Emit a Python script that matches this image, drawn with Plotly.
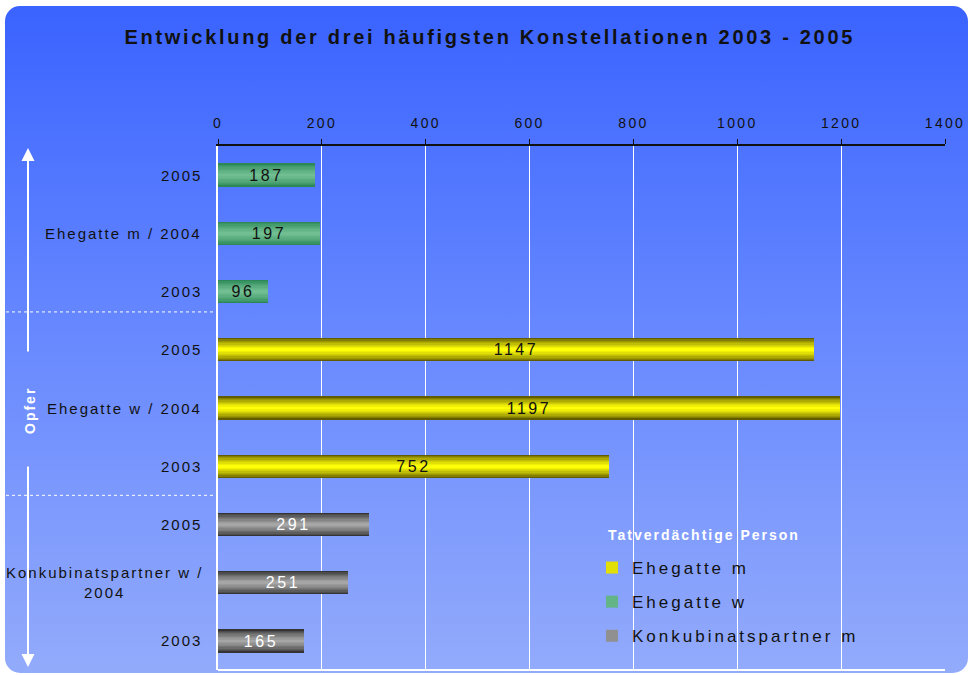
import base64
import plotly.graph_objects as go

# ---------------- data ----------------
row_labels = ["2005", "Ehegatte m / 2004", "2003",
              "2005", "Ehegatte w / 2004", "2003",
              "2005", "Konkubinatspartner w /<br>2004", "2003"]
series_names = ["Ehegatte m", "Ehegatte w", "Konkubinatspartner m"]
ehegatte_m = [1147, 1197, 752]        # Opfer: Ehegatte w
ehegatte_w = [187, 197, 96]           # Opfer: Ehegatte m
konkubinatspartner_m = [291, 251, 165]  # Opfer: Konkubinatspartner w
x_ticks = [0, 200, 400, 600, 800, 1000, 1200, 1400]

title = "Entwicklung der drei häufigsten Konstellationen 2003 - 2005"
legend_title = "Tatverdächtige Person"
side_label = "Opfer"

# ---------------- styling ----------------
FONT = "Arial, Liberation Sans, sans-serif"
series = [
    # name, values, group index (block of rows), dark, bright, text colour
    (series_names[0], ehegatte_m, 1, (0x62, 0x5c, 0x00), (0xff, 0xff, 0x08), "#111111"),
    (series_names[1], ehegatte_w, 0, (0x2c, 0x88, 0x56), (0x70, 0xbe, 0x92), "#111111"),
    (series_names[2], konkubinatspartner_m, 2, (0x34, 0x34, 0x34), (0xa6, 0xa6, 0xa6), "#ffffff"),
]
BAR_W = 0.40
N_LAYERS = 9


def mix(a, b, t):
    return "rgb(%d,%d,%d)" % tuple(round(a[i] + (b[i] - a[i]) * t) for i in range(3))


fig = go.Figure()
for name, vals, grp, dark, bright, tcol in series:
    rows = [grp * 3 + k for k in range(len(vals))]
    for i in range(N_LAYERS):
        t = (i / (N_LAYERS - 1)) ** 0.75
        w = BAR_W * (1 - i / N_LAYERS)
        fig.add_trace(go.Bar(
            x=vals, y=rows, orientation="h", width=w,
            marker=dict(color=mix(dark, bright, t), line=dict(width=0)),
            name=name, legendgroup=name, showlegend=(i == N_LAYERS - 3),
            hoverinfo="skip",
        ))
    fig.add_trace(go.Bar(
        x=vals, y=rows, orientation="h", width=BAR_W,
        marker=dict(color="rgba(0,0,0,0)", line=dict(width=0)),
        text=[str(v) for v in vals], textposition="inside",
        insidetextanchor="middle", constraintext="none",
        textfont=dict(family=FONT, size=16, color=tcol),
        legendgroup=name, showlegend=False, name=name,
        hovertemplate="%{x}<extra>" + name + "</extra>",
    ))

# background panel (rounded, vertical gradient) as an inline SVG image
svg = ('<svg xmlns="http://www.w3.org/2000/svg" width="963" height="667" viewBox="0 0 963 667" '
       'preserveAspectRatio="none"><defs><linearGradient id="g" x1="0" y1="0" x2="0" y2="1">'
       '<stop offset="0" stop-color="#3a63ff"/><stop offset="0.5" stop-color="#6889ff"/>'
       '<stop offset="1" stop-color="#93abfb"/></linearGradient></defs>'
       '<rect x="0" y="0" width="963" height="667" rx="15" ry="15" fill="url(#g)"/></svg>')
src = "data:image/svg+xml;base64," + base64.b64encode(svg.encode()).decode()

L, R, T, B = 218, 23, 146, 5
W, H = 968, 675
pw, ph = W - L - R, H - T - B


def px(xp):
    return (xp - L) / pw


def py(yp):
    return (H - B - yp) / ph


annotations = []
for idx, lab in enumerate(row_labels):
    if "<br>" in lab:
        annotations.append(dict(x=px(105), y=idx, xref="paper", yref="y", text=lab,
                                showarrow=False, xanchor="center", yanchor="middle", align="center",
                                font=dict(family=FONT, size=15, color="#111111")))
    else:
        annotations.append(dict(x=px(204), y=idx, xref="paper", yref="y", text=lab,
                                showarrow=False, xanchor="right", yanchor="middle", align="right",
                                font=dict(family=FONT, size=15, color="#111111")))

annotations += [
    dict(x=px(28), y=py(148), xref="paper", yref="paper", text="", showarrow=True,
         ax=0, ay=205, axref="pixel", ayref="pixel", arrowhead=2, arrowsize=1.3,
         arrowwidth=2, arrowcolor="white", standoff=0, startstandoff=0),
    dict(x=px(28), y=py(667), xref="paper", yref="paper", text="", showarrow=True,
         ax=0, ay=-202, axref="pixel", ayref="pixel", arrowhead=2, arrowsize=1.3,
         arrowwidth=2, arrowcolor="white", standoff=0, startstandoff=0),
    dict(x=px(30), y=py(410), xref="paper", yref="paper", text="<b>" + side_label + "</b>",
         showarrow=False, textangle=-90, xanchor="center", yanchor="middle",
         font=dict(family=FONT, size=14, color="white")),
    dict(x=px(606), y=py(535), xref="paper", yref="paper", text="<b>" + legend_title + "</b>",
         showarrow=False, xanchor="left", yanchor="middle", align="left",
         font=dict(family=FONT, size=14, color="white")),
]

shapes = [
    dict(type="line", xref="paper", yref="y", x0=px(6), x1=px(215), y0=2.35, y1=2.35,
         line=dict(color="white", width=1, dash="dot")),
    dict(type="line", xref="paper", yref="y", x0=px(6), x1=px(215), y0=5.5, y1=5.5,
         line=dict(color="white", width=1, dash="dot")),
    dict(type="line", xref="paper", yref="paper", x0=0, x1=1, y0=0, y1=0,
         line=dict(color="white", width=2)),
]

fig.update_layout(
    width=W, height=H,
    margin=dict(l=L, r=R, t=T, b=B, pad=0),
    paper_bgcolor="white", plot_bgcolor="rgba(0,0,0,0)",
    barmode="overlay", bargap=0,
    font=dict(family=FONT, size=14, color="#111111"),
    title=dict(text="<b>" + title + "</b>", x=0.506, xref="container", y=1 - 37 / H,
               yref="container", xanchor="center", yanchor="middle",
               font=dict(family=FONT, size=20, color="#111111")),
    xaxis=dict(side="top", range=[0, 1400], tickvals=x_ticks, ticktext=[str(v) for v in x_ticks],
               ticks="outside", ticklen=5, tickcolor="#111111", tickwidth=1,
               showline=True, linecolor="#111111", linewidth=1.5,
               showgrid=True, gridcolor="white", gridwidth=1, zeroline=False,
               ticklabelstandoff=6,
               tickfont=dict(family=FONT, size=14, color="#111111"), fixedrange=True),
    yaxis=dict(range=[8.5, -0.5], showticklabels=False, ticks="", showgrid=False,
               zeroline=False, showline=True, linecolor="white", linewidth=2, fixedrange=True),
    legend=dict(x=px(592), y=py(550), xanchor="left", yanchor="top",
                bgcolor="rgba(0,0,0,0)", traceorder="grouped", tracegroupgap=9,
                font=dict(family=FONT, size=17, color="#111111"), itemclick=False),
    images=[dict(source=src, xref="paper", yref="paper", x=px(5), y=py(6),
                 sizex=963 / pw, sizey=667 / ph, sizing="stretch", layer="below",
                 xanchor="left", yanchor="top")],
    annotations=annotations, shapes=shapes,
    showlegend=True,
)

post = """
document.body.style.margin='0';
var gd = document.getElementById('{plot_id}');
function ls(sel, v){ gd.querySelectorAll(sel).forEach(function(e){ e.style.letterSpacing = v; }); }
ls('.gtitle', '2.7px'); ls('.xtick text', '2.3px'); ls('.legendtext', '3px');
ls('.annotation-text', '2px'); ls('.bartext', '2.5px');
gd.querySelectorAll('.legend [clip-path]').forEach(function(e){ e.removeAttribute('clip-path'); });
"""

fig.write_html("out.html", post_script=post, config={"displayModeBar": False})
